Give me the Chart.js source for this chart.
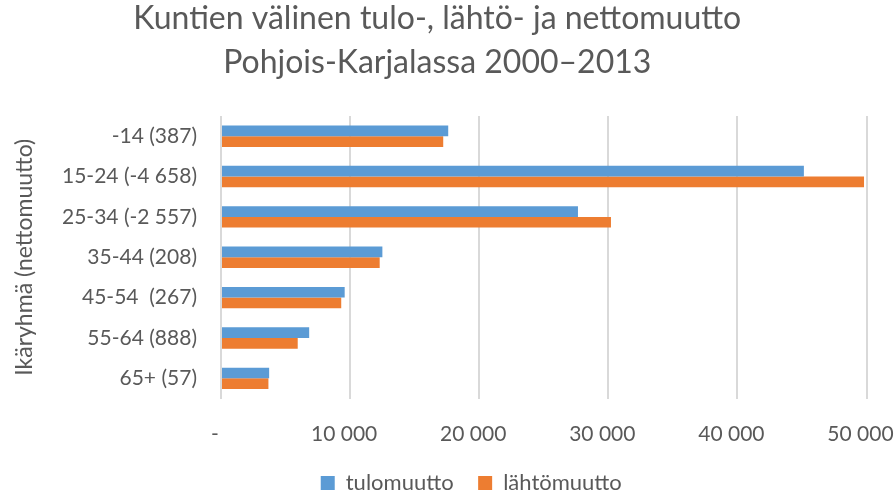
<!DOCTYPE html>
<html><head><meta charset="utf-8">
<script src="https://cdn.jsdelivr.net/npm/chart.js@4/dist/chart.umd.min.js"></script>
<style>html,body{margin:0;padding:0;background:#fff}#wrap{width:896px;height:493px}</style>
</head><body><div id="wrap"><canvas id="c" width="896" height="493"></canvas></div>
<script>
const categories = ['-14 (387)', '15-24 (-4 658)', '25-34 (-2 557)', '35-44 (208)', '45-54  (267)', '55-64 (888)', '65+ (57)'];
const tulomuutto = [17600, 45150, 27650, 12500, 9580, 6830, 3730];
const lahtomuutto = [17213, 49808, 30207, 12292, 9313, 5942, 3673];
const xTicks = [0, 10000, 20000, 30000, 40000, 50000];

const FONT = 'Lato, "Open Sans", sans-serif';
const GREY = '#595959';
function fmt(v){ if (v === 0) return '-'; return String(v).replace(/\B(?=(\d{3})+(?!\d))/g, ' '); }

const legendShift = {
  id: 'legendShift',
  afterLayout(chart) {
    const l = chart.legend;
    l.left += 34; l.right += 34;
    l.top += 11; l.bottom += 11;
  }
};

new Chart(document.getElementById('c'), {
  type: 'bar',
  data: {
    labels: categories,
    datasets: [
      { label: 'tulomuutto', data: tulomuutto, backgroundColor: '#5b9bd5', categoryPercentage: 0.53, barPercentage: 1.0 },
      { label: 'lähtömuutto', data: lahtomuutto, backgroundColor: '#ed7d31', categoryPercentage: 0.53, barPercentage: 1.0 }
    ]
  },
  plugins: [legendShift],
  options: {
    indexAxis: 'y',
    responsive: false,
    animation: false,
    layout: { padding: { left: 8, right: 29.5, top: 0, bottom: 0 } },
    plugins: {
      title: {
        display: true,
        text: ['Kuntien välinen tulo-, lähtö- ja nettomuutto', 'Pohjois-Karjalassa 2000–2013'],
        font: { family: FONT, size: 32, weight: 'normal', lineHeight: 1.36 },
        color: GREY,
        padding: { top: -3, bottom: 32 }
      },
      legend: {
        position: 'bottom',
        labels: {
          font: { family: FONT, size: 22 }, color: GREY, boxWidth: 14, boxHeight: 14, padding: 2,
          generateLabels: (chart) => {
            const items = Chart.defaults.plugins.legend.labels.generateLabels(chart);
            items.forEach((it, i) => { if (i < items.length - 1) it.text = it.text + '    '; });
            return items;
          }
        }
      },
      tooltip: { enabled: false }
    },
    scales: {
      x: {
        min: 0, max: 50000,
        afterBuildTicks: (s) => { s.ticks = xTicks.map(v => ({ value: v })); },
        ticks: { callback: (v) => fmt(v), font: { family: FONT, size: 21 }, color: GREY, padding: 23, labelOffset: -6, maxRotation: 0 },
        grid: { color: '#d9d9d9', lineWidth: 2, drawTicks: false },
        border: { display: false },
        afterFit: (s) => { s.height = 60.5; s.paddingLeft = 0; s.paddingRight = 0; }
      },
      y: {
        ticks: { font: { family: FONT, size: 21 }, color: GREY, padding: 24 },
        grid: { display: false, drawTicks: false },
        border: { display: false },
        title: { display: true, text: 'Ikäryhmä (nettomuutto)', font: { family: FONT, size: 23 }, color: GREY, padding: { top: 3, bottom: 0 } },
        afterFit: (s) => { s.width = 213; }
      }
    }
  }
});
</script></body></html>
